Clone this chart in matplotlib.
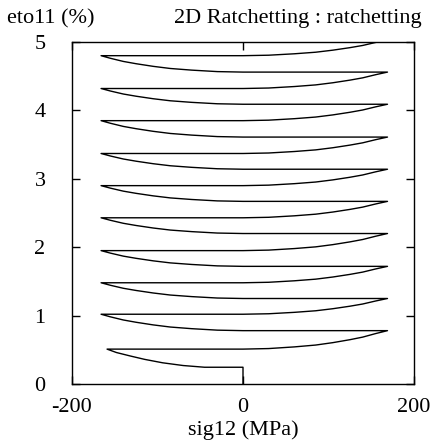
import numpy as np
import matplotlib
matplotlib.use('Agg')
import matplotlib.pyplot as plt

plt.rcParams['font.family'] = ['Liberation Serif', 'DejaVu Serif']
plt.rcParams['axes.unicode_minus'] = False

# Start: axial step at sig12 = 0, then first shear loading to the left
start_sig = [0, 0, -45, -70, -94, -115, -132, -148, -159]
start_eto = [0.0, 0.245, 0.245, 0.27, 0.31, 0.36, 0.41, 0.46, 0.51]

# Strain at the reversal points (alternating left / right tips)
tip_eto = [0.51, 0.78, 1.02, 1.25, 1.48, 1.72, 1.95, 2.20, 2.43, 2.67,
           2.90, 3.14, 3.37, 3.61, 3.85, 4.09, 4.32, 4.56, 4.80, 5.03]
tip_sig_left = [-159, -166, -166, -166, -166, -166, -166, -166, -166, -166]

# Shape of one loading branch (rightward direction)
branch_sig = [0, 30, 60, 85, 105, 125, 140, 155, 169]
branch_frac = [0, 0.03, 0.12, 0.22, 0.35, 0.51, 0.65, 0.84, 1.0]

sig = list(start_sig)
eto = list(start_eto)
for i in range(len(tip_eto) - 1):
    a, b = tip_eto[i], tip_eto[i + 1]
    if i % 2 == 0:
        # from left tip to right tip
        sig += branch_sig
    else:
        # from right tip back to left tip
        sig += [-s for s in branch_sig[:-1]] + [tip_sig_left[(i + 1) // 2]]
    eto += [a + (b - a) * f for f in branch_frac]

fig = plt.figure(figsize=(4.3, 4.4), dpi=100)
ax = fig.add_axes([72 / 430, 1 - 384 / 440, 342 / 430, 342 / 440])
ax.plot(sig, eto, color='black', linewidth=1.0)

ax.set_xlim(-200, 200)
ax.set_ylim(0, 5)
ax.set_xticks([-200, 0, 200])
ax.set_yticks([0, 1, 2, 3, 4, 5])
ax.tick_params(direction='in', length=6, width=1.0, top=True, right=True,
               labelsize=16, color='black')
ax.tick_params(axis='x', pad=10)
ax.tick_params(axis='y', pad=19)
for sp in ax.spines.values():
    sp.set_linewidth(1.0)

fig.text(243 / 430, 1 - 430 / 440, 'sig12 (MPa)', ha='center', va='center', fontsize=16)
fig.text(7 / 430, 1 - 19 / 440, 'eto11 (%)', ha='left', va='center', fontsize=16)
fig.text(422 / 430, 1 - 19 / 440, '2D Ratchetting : ratchetting', ha='right', va='center', fontsize=16)

fig.savefig('out.png', dpi=100)
